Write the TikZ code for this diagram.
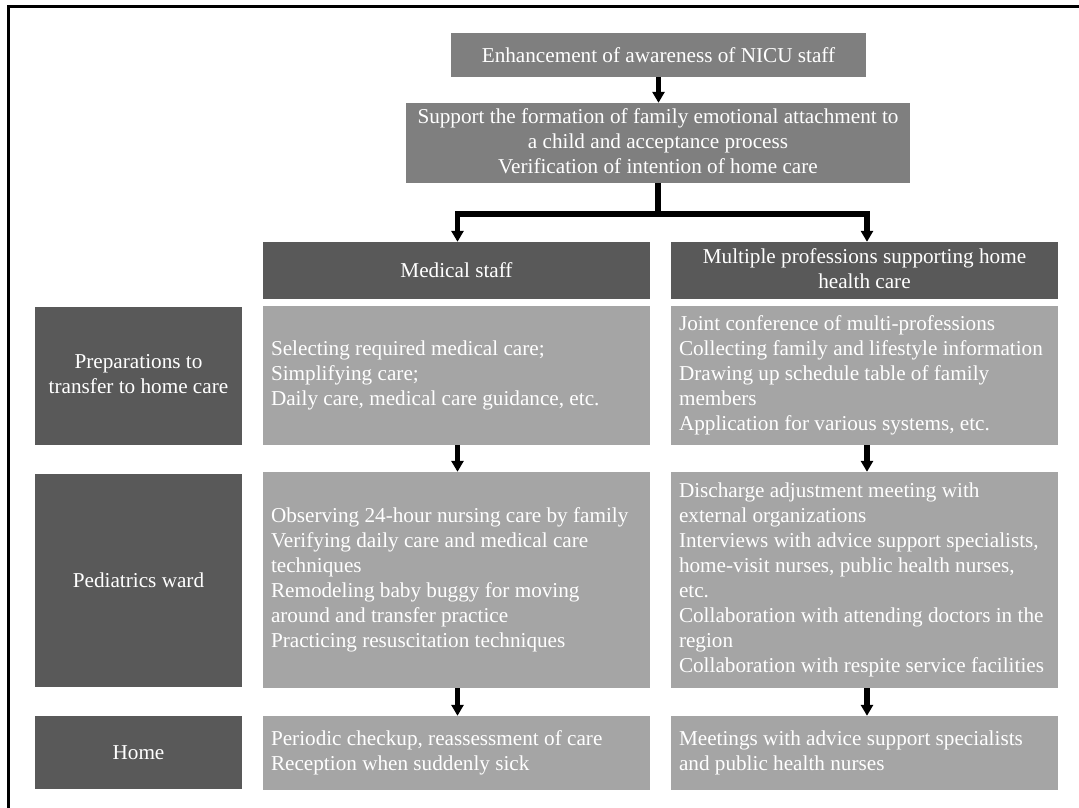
\documentclass[tikz,border=0pt]{standalone}
\usepackage{fontspec}
\setmainfont{Liberation Serif}
\usetikzlibrary{arrows.meta}
\definecolor{topgray}{HTML}{7F7F7F}
\definecolor{darkbox}{HTML}{595959}
\definecolor{lightbox}{HTML}{A5A5A5}
\newcommand\celltext[2]{\makebox[#1][l]{\begin{tabular}{@{}l@{}}#2\end{tabular}}}
\newcommand\centtext[1]{\begin{tabular}{@{}c@{}}#1\end{tabular}}
\begin{document}
\begin{tikzpicture}[x=1pt,y=-1pt,
  basebox/.style={rectangle, inner ysep=0pt, inner xsep=8pt, text=white,
    font=\fontsize{21.2}{25}\selectfont},
  topbox/.style={basebox, fill=topgray, inner xsep=0pt},
  headbox/.style={basebox, fill=darkbox, minimum width=387pt, minimum height=57pt},
  labelbox/.style={basebox, fill=darkbox, minimum width=207pt, inner xsep=0pt},
  cellbox/.style={basebox, fill=lightbox, minimum width=387pt},
  conn/.style={line width=5.5pt, black},
  arr/.style={conn, -{Triangle[width=12pt,length=11pt]}},
  frameline/.style={line width=2.6pt, black, line join=miter}]
\useasboundingbox (0,0) rectangle (1079,808);
% frame
\draw[frameline] (8.5,808) -- (8.5,6.3) -- (1079,6.3);
% top boxes
\node[topbox, minimum width=415pt, minimum height=44pt] (t1) at (658.5,55)
  {Enhancement of awareness of NICU staff};
\node[topbox, minimum width=504pt, minimum height=80pt] (t2) at (658,143)
  {\centtext{Support the formation of family emotional attachment to\\a child and acceptance process\\Verification of intention of home care}};
% headers
\node[headbox] (mh) at (456.5,270.5) {Medical staff};
\node[headbox] (rh) at (864.5,270.5) {\centtext{Multiple professions supporting home\\health care}};
% row labels
\node[labelbox, minimum height=138pt] (l1) at (138.5,376) {\centtext{Preparations to\\transfer to home care}};
\node[labelbox, minimum height=213pt] (l2) at (138.5,580.5) {Pediatrics ward};
\node[labelbox, minimum height=73pt] (l3) at (138.5,752.5) {Home};
% medical staff cells
\node[cellbox, minimum height=139pt] (m1) at (456.5,375.5)
  {\celltext{371pt}{Selecting required medical care;\\Simplifying care;\\Daily care, medical care guidance, etc.}};
\node[cellbox, minimum height=216pt] (m2) at (456.5,580)
  {\celltext{371pt}{Observing 24-hour nursing care by family\\Verifying daily care and medical care\\techniques\\Remodeling baby buggy for moving\\around and transfer practice\\Practicing resuscitation techniques}};
\node[cellbox, minimum height=74pt] (m3) at (456.5,753)
  {\celltext{371pt}{Periodic checkup, reassessment of care\\Reception when suddenly sick}};
% multiple professions cells
\node[cellbox, minimum height=139pt] (r1) at (864.5,375.5)
  {\celltext{371pt}{Joint conference of multi-professions\\Collecting family and lifestyle information\\Drawing up schedule table of family\\members\\Application for various systems, etc.}};
\node[cellbox, minimum height=216pt] (r2) at (864.5,580)
  {\celltext{371pt}{Discharge adjustment meeting with\\external organizations\\Interviews with advice support specialists,\\home-visit nurses, public health nurses,\\etc.\\Collaboration with attending doctors in the\\region\\Collaboration with respite service facilities}};
\node[cellbox, minimum height=74pt] (r3) at (864.5,753)
  {\celltext{371pt}{Meetings with advice support specialists\\and public health nurses}};
% connectors
\draw[arr] (t1.south) -- (t1.south |- t2.north);
\coordinate (j) at ([yshift=-31pt]t2.south);
\draw[conn] (t2.south) -- (j);
\draw[arr] (j) -| ([xshift=1pt]mh.north);
\draw[arr] (j) -| ([xshift=2.5pt]rh.north);
\draw[arr] ([xshift=1pt]m1.south) -- ([xshift=1pt]m2.north);
\draw[arr] ([xshift=1pt]m2.south) -- ([xshift=1pt]m3.north);
\draw[arr] ([xshift=2.5pt]r1.south) -- ([xshift=2.5pt]r2.north);
\draw[arr] ([xshift=2.5pt]r2.south) -- ([xshift=2.5pt]r3.north);
\end{tikzpicture}
\end{document}
